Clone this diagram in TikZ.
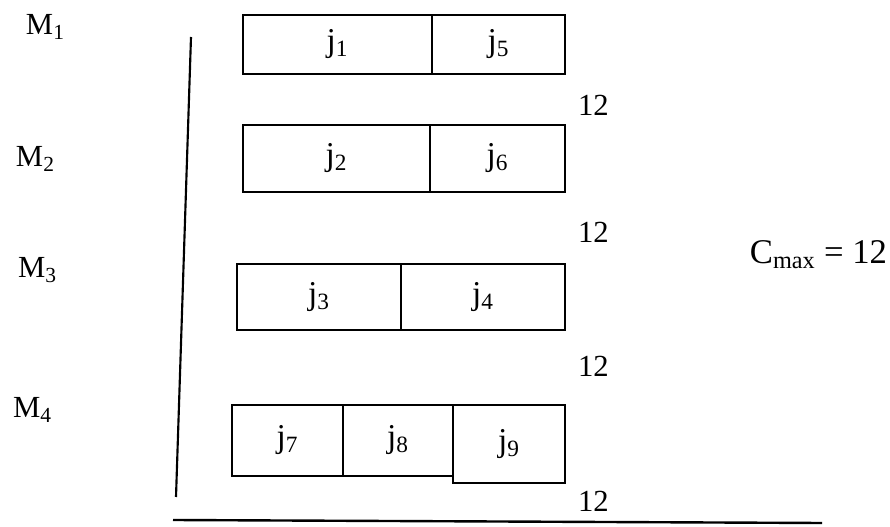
\documentclass[tikz,border=0pt]{standalone}
\usepackage{fontspec}
\setmainfont{Liberation Serif}
\tikzset{
  lbl/.style={inner sep=0pt, outer sep=0pt, font=\fontsize{23}{27}\selectfont},
  cell/.style={draw, line width=1.5pt, inner sep=0pt, outer sep=0pt, font=\fontsize{25}{29}\selectfont},
  axis/.style={line width=1.6pt},
}
\newcommand\cellnode[6]{%
  \node[cell, minimum width={(#4-#2)*0.75pt}, minimum height={(#5-#3)*0.75pt}] (#1) at ({(#2+#4)/2},{(#3+#5)/2}) {#6};}
\begin{document}
\begin{tikzpicture}[x=0.75pt, y=-0.75pt]
\useasboundingbox (0,0) rectangle (890,527);
% machine labels
\node[lbl, anchor=base west] (m1) at (26,35) {M\textsubscript{1}};
\node[lbl, anchor=base west] (m2) at (16,167) {M\textsubscript{2}};
\node[lbl, anchor=base west] (m3) at (18,278) {M\textsubscript{3}};
\node[lbl, anchor=base west] (m4) at (13,418) {M\textsubscript{4}};
% machine 1
\cellnode{j1}{243}{15}{432}{74}{j\textsubscript{1}}
\cellnode{j5}{432}{15}{565}{74}{j\textsubscript{5}}
% machine 2
\cellnode{j2}{243}{125}{430}{192}{j\textsubscript{2}}
\cellnode{j6}{430}{125}{565}{192}{j\textsubscript{6}}
% machine 3
\cellnode{j3}{237}{264}{401}{330}{j\textsubscript{3}}
\cellnode{j4}{401}{264}{565}{330}{j\textsubscript{4}}
% machine 4
\cellnode{j7}{232}{405}{343}{476}{j\textsubscript{7}}
\cellnode{j8}{343}{405}{453}{476}{j\textsubscript{8}}
\cellnode{j9}{453}{405}{565}{483}{j\textsubscript{9}}
% completion times
\node[lbl, anchor=base west] (t1) at (578,116) {12};
\node[lbl, anchor=base west] (t2) at (578,243) {12};
\node[lbl, anchor=base west] (t3) at (578,377) {12};
\node[lbl, anchor=base west] (t4) at (578,512) {12};
% makespan
\node[lbl, anchor=base east, font=\fontsize{26}{30}\selectfont] (cmax) at (887,264) {C\textsubscript{max} = 12};
% axes
\coordinate (vtop) at (191,37);
\coordinate (vbot) at (176,497);
\coordinate (hl) at (173,520);
\coordinate (hr) at (822,523);
\draw[axis] (vtop) -- (vbot);
\draw[axis, line width=1.8pt] (hl) -- (hr);
\end{tikzpicture}
\end{document}
